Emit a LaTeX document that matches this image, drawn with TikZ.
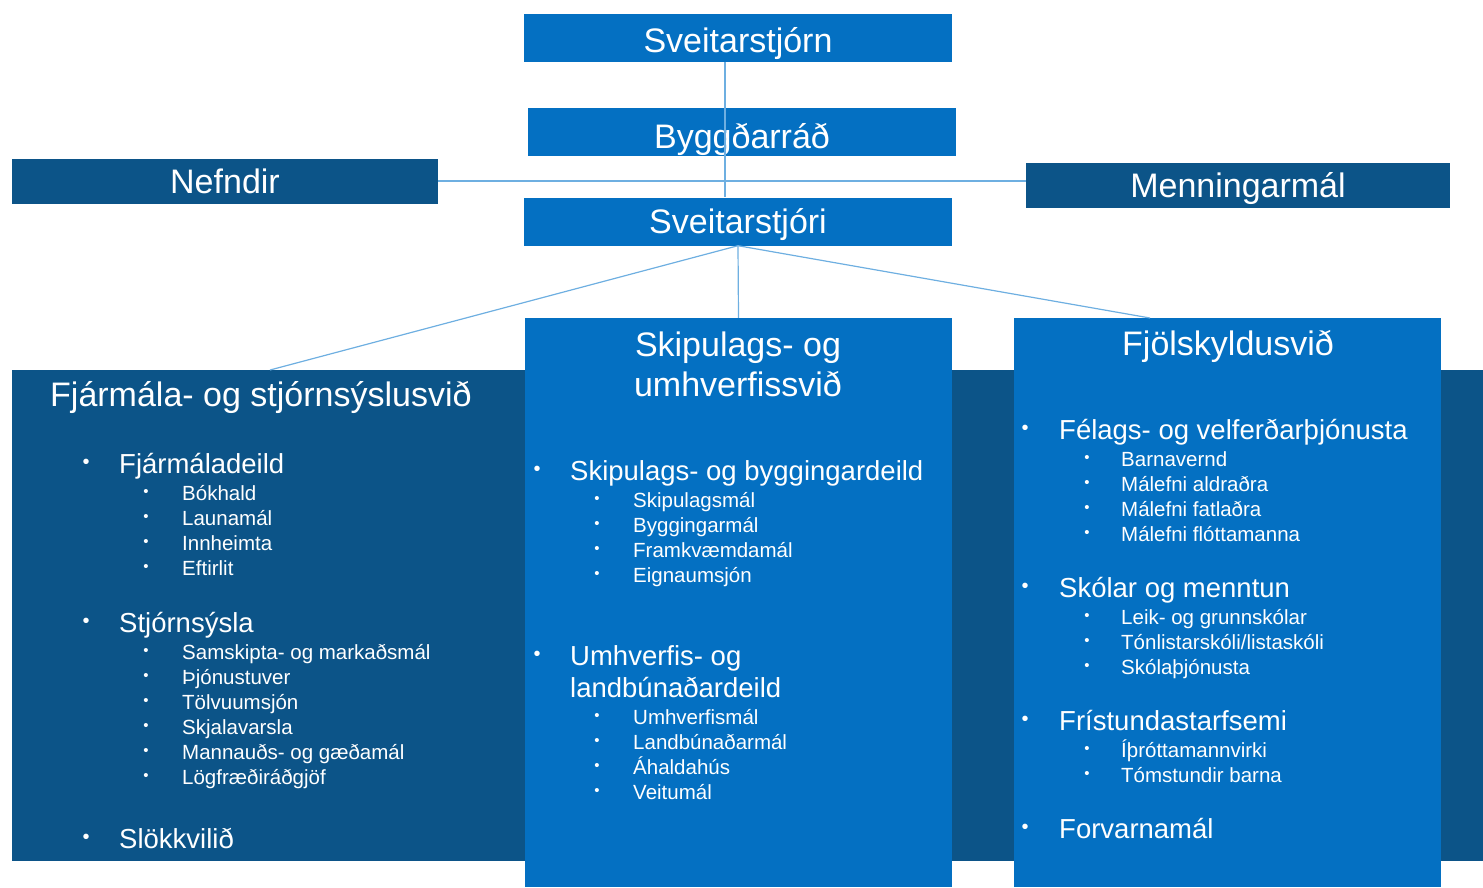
\documentclass[tikz,border=0pt]{standalone}
\usepackage{fontspec}
\setmainfont{Liberation Sans}
\usetikzlibrary{positioning}
\definecolor{muniBlue}{RGB}{4,112,194}
\definecolor{muniDark}{RGB}{12,84,136}
\definecolor{muniLine}{RGB}{110,175,225}

\tikzset{
  headbox/.style={fill=muniBlue, text=white, inner sep=0pt, text height=24pt, text depth=0pt,
    minimum width=428pt, minimum height=48pt, font=\fontsize{34}{34}\selectfont},
  sidebox/.style={headbox, fill=muniDark, minimum width=426pt, minimum height=45pt},
  svidbox/.style={fill=muniBlue, inner sep=0pt, minimum width=427pt, minimum height=569pt},
  svidtitle/.style={text=white, inner sep=0pt, align=center, text height=24.3pt, text depth=0pt,
    font=\fontsize{34}{40}\selectfont},
  link/.style={muniLine, line width=1.2pt},
  itemone/.style={anchor=west, text=white, inner sep=0pt, align=left,
    text height=19.7pt, text depth=0pt, font=\fontsize{27.5}{32}\selectfont},
  itemtwo/.style={anchor=west, text=white, inner sep=0pt,
    text height=14.7pt, text depth=0pt, font=\fontsize{20.5}{20.5}\selectfont},
  dotone/.style={text=white, inner sep=0pt, font=\fontsize{20}{20}\selectfont},
  dottwo/.style={text=white, inner sep=0pt, font=\fontsize{15}{15}\selectfont},
}

\begin{document}
\begin{tikzpicture}[x=1pt, y=-1pt]
  \useasboundingbox (0,0) rectangle (1483,887);

  % dark band behind the three svið
  \node[fill=muniDark, inner sep=0pt, minimum width=1471pt, minimum height=491pt]
    (band) at (747.5,615.5) {};

  % top of the chart
  \node[headbox, text height=29pt] (stjorn) at (738,37.5) {Sveitarstjórn};
  \node[headbox, text height=33pt] (byggd) at (742,131.5) {Byggðarráð};
  \node[headbox] (stjori) at (738,221.5) {Sveitarstjóri};
  \node[sidebox] (nefndir) at (225,181.5) {Nefndir};
  \node[sidebox, minimum width=424pt] (menning) at (1238,185.5) {Menningarmál};

  \coordinate (vlink) at (725,0);
  \draw[link] (stjorn.south -| vlink) -- (stjori.north -| vlink);
  \draw[link] (nefndir.east |- 0,181) -- (menning.west |- 0,181);

  % the three svið
  \node[svidbox] (skipul) at (738.5,602.5) {};
  \node[svidbox] (fjolsk) at (1227.5,602.5) {};
  \coordinate (fjarTop) at (270,370);
  \coordinate (fjolTop) at (1150,318);

  \draw[link] (stjori.south) -- (fjarTop);
  \draw[link] (stjori.south) -- (skipul.north);
  \draw[link] (stjori.south) -- (fjolTop);

  % Fjármála- og stjórnsýslusvið
  \node[svidtitle, anchor=west] (fjartitle) at (50,394) {Fjármála- og stjórnsýslusvið};
  \node[dotone] (fjarb1) at (86,464) {•};
  \node[itemone] (fjar1) at (119,464) {Fjármáladeild};
  \foreach \txt [count=\i] in {Bókhald, Launamál, Innheimta, Eftirlit}
    {\node[dottwo] (fjarb1-\i) at (146,468+25*\i) {•};
     \node[itemtwo] (fjar1-\i) at (182,468+25*\i) {\txt};}
  \node[dotone] (fjarb2) at (86,623) {•};
  \node[itemone] (fjar2) at (119,623) {Stjórnsýsla};
  \foreach \txt [count=\i] in {Samskipta- og markaðsmál, Þjónustuver, Tölvuumsjón,
      Skjalavarsla, Mannauðs- og gæðamál, Lögfræðiráðgjöf}
    {\node[dottwo] (fjarb2-\i) at (146,627+25*\i) {•};
     \node[itemtwo] (fjar2-\i) at (182,627+25*\i) {\txt};}
  \node[dotone] (fjarb3) at (86,839) {•};
  \node[itemone] (fjar3) at (119,839) {Slökkvilið};

  % Skipulags- og umhverfissvið
  \node[svidtitle] (skiptitle) at (738,384) {Skipulags- og\\umhverfissvið};
  \node[dotone] (skipb1) at (537,471) {•};
  \node[itemone] (skip1) at (570,471) {Skipulags- og byggingardeild};
  \foreach \txt [count=\i] in {Skipulagsmál, Byggingarmál, Framkvæmdamál, Eignaumsjón}
    {\node[dottwo] (skipb1-\i) at (597,475+25*\i) {•};
     \node[itemtwo] (skip1-\i) at (633,475+25*\i) {\txt};}
  \node[dotone] (skipb2) at (537,656) {•};
  \node[itemone] (skip2) at (570,688) {Umhverfis- og\\landbúnaðardeild};
  \foreach \txt [count=\i] in {Umhverfismál, Landbúnaðarmál, Áhaldahús, Veitumál}
    {\node[dottwo] (skipb2-\i) at (597,692+25*\i) {•};
     \node[itemtwo] (skip2-\i) at (633,692+25*\i) {\txt};}

  % Fjölskyldusvið
  \node[svidtitle] (fjoltitle) at (1228,343) {Fjölskyldusvið};
  \node[dotone] (fjolb1) at (1025,430) {•};
  \node[itemone] (fjol1) at (1059,430) {Félags- og velferðarþjónusta};
  \foreach \txt [count=\i] in {Barnavernd, Málefni aldraðra, Málefni fatlaðra,
      Málefni flóttamanna}
    {\node[dottwo] (fjolb1-\i) at (1087,434+25*\i) {•};
     \node[itemtwo] (fjol1-\i) at (1121,434+25*\i) {\txt};}
  \node[dotone] (fjolb2) at (1025,588) {•};
  \node[itemone] (fjol2) at (1059,588) {Skólar og menntun};
  \foreach \txt [count=\i] in {Leik- og grunnskólar, Tónlistarskóli/listaskóli, Skólaþjónusta}
    {\node[dottwo] (fjolb2-\i) at (1087,592+25*\i) {•};
     \node[itemtwo] (fjol2-\i) at (1121,592+25*\i) {\txt};}
  \node[dotone] (fjolb3) at (1025,721) {•};
  \node[itemone] (fjol3) at (1059,721) {Frístundastarfsemi};
  \foreach \txt [count=\i] in {Íþróttamannvirki, Tómstundir barna}
    {\node[dottwo] (fjolb3-\i) at (1087,725+25*\i) {•};
     \node[itemtwo] (fjol3-\i) at (1121,725+25*\i) {\txt};}
  \node[dotone] (fjolb4) at (1025,829) {•};
  \node[itemone] (fjol4) at (1059,829) {Forvarnamál};

\end{tikzpicture}
\end{document}
